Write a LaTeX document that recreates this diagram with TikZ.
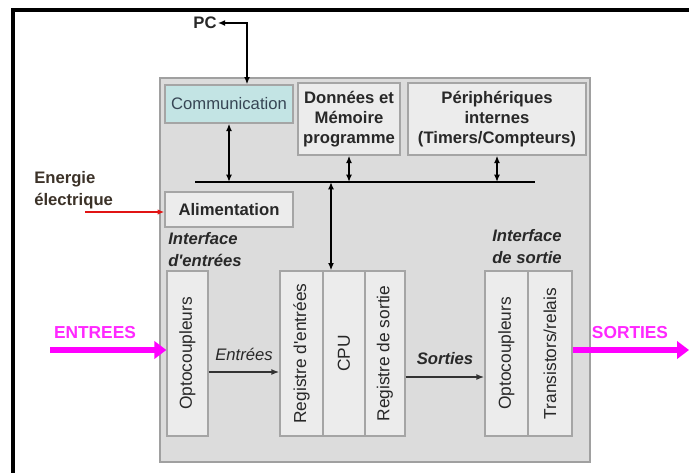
\documentclass[tikz,border=0pt]{standalone}
\usepackage{fontspec}
\setmainfont{Liberation Sans}
\usetikzlibrary{arrows.meta}

\tikzset{
  txt/.style={inner sep=0.75pt, font=\fontsize{12.5}{15}\selectfont\bfseries, text={rgb,255:red,40;green,40;blue,40}},
  blk/.style={draw={rgb,255:red,165;green,165;blue,165}, fill={rgb,255:red,236;green,236;blue,236}, line width=1pt, inner sep=0pt, align=center, font=\fontsize{12.5}{15}\selectfont\bfseries, text={rgb,255:red,40;green,40;blue,40}},
  vblk/.style={blk, rotate=90, font=\fontsize{13}{15}\selectfont, minimum width=123.75pt},
  biarrow/.style={line width=1.3pt, {Latex[length=5.5pt,width=4.5pt]}-{Latex[length=5.5pt,width=4.5pt]}},
  flow/.style={line width=1.6pt, draw={rgb,255:red,50;green,50;blue,50}, -{Latex[length=6pt,width=4.5pt]}},
  bigarrow/.style={line width=5pt, draw={rgb,255:red,255;green,0;blue,255}, -{Triangle[length=9pt,width=13pt]}},
  bigtxt/.style={inner sep=0.75pt, font=\fontsize{13}{15}\selectfont\bfseries, text={rgb,255:red,255;green,40;blue,255}}
}

\begin{document}
\begin{tikzpicture}[x=0.75pt,y=0.75pt,yscale=-1,xscale=1]
\useasboundingbox (0,0) rectangle (689,472);

%Shape: Rectangle [frame]
\draw [line width=3pt] (13,10) rectangle (720,500);

%Shape: Rectangle [automate]
\node (plc) [draw={rgb,255:red,160;green,160;blue,160}, fill={rgb,255:red,220;green,220;blue,220}, line width=1.2pt, minimum width=322.5pt, minimum height=288pt] at (375,270) {};

%Shape: Rectangle [top row]
\node (comm) [blk, fill={rgb,255:red,195;green,228;blue,228}, font=\fontsize{12.5}{15}\selectfont, text={rgb,255:red,55;green,70;blue,85}, minimum width=96pt, minimum height=28.5pt] at (229,104) {Communication};
\node (mem) [blk, minimum width=76.5pt, minimum height=54pt] at (349,119) {Données et\\Mémoire\\programme};
\node (periph) [blk, minimum width=133.5pt, minimum height=54pt] at (497,119) {Périphériques\\internes\\(Timers/Compteurs)};
\node (alim) [blk, minimum width=96pt, minimum height=26.25pt] at (229,209.5) {Alimentation};

%Shape: Rectangle [vertical blocks]
\node (optin) [vblk, minimum height=30.75pt] at (187.5,353.5) {Optocoupleurs};
\node (regin) [vblk, minimum height=32.25pt] at (301.5,353.5) {Registre d\textquotesingle entrées};
\node (cpu) [vblk, minimum height=31.5pt] at (344,353.5) {CPU};
\node (regout) [vblk, minimum height=30pt] at (385,353.5) {Registre de sortie};
\node (optout) [vblk, minimum height=32.25pt] at (506.5,353.5) {Optocoupleurs};
\node (trans) [vblk, minimum height=33pt] at (550,353.5) {Transistors/relais};

%Straight Lines [bus]
\coordinate (busL) at (195,182);
\coordinate (busR) at (535,182);
\coordinate (busC) at (331,182);
\draw [line width=1.6pt] (busL) -- (busR);
\draw [biarrow] (comm.south) -- (comm.south |- busL);
\draw [biarrow] (mem.south) -- (mem.south |- busL);
\draw [biarrow] (periph.south) -- (periph.south |- busL);
\draw [biarrow] (busC) -- (busC |- cpu.east);

% Text Node
\node (pc) [txt] at (205,23) {PC};
\draw [biarrow] (pc.east) -| (comm.north -| 247,0);

% Text Node
\node (energie) [txt, anchor=north west, align=left, font=\fontsize{12.5}{16.5}\selectfont\bfseries, text={rgb,255:red,60;green,50;blue,40}] at (33,170) {Energie\\électrique};
\coordinate (enStart) at (85,212);
\draw [line width=1.3pt, draw={rgb,255:red,225;green,20;blue,20}, -{Latex[length=5pt,width=4pt]}] (enStart) -- (alim.west |- enStart);

% Text Node
\node (ifin) [txt, anchor=north west, align=left, font=\fontsize{12.5}{16.5}\selectfont\bfseries\itshape] at (167,231) {Interface\\d\textquotesingle entrées};
\node (ifout) [txt, align=center, font=\fontsize{12.5}{16.5}\selectfont\bfseries\itshape] at (527,247) {Interface\\de sortie};

%Straight Lines [entrees / sorties]
\draw [flow] (optin.south |- 0,372) -- node (lblin) [txt, above=7pt, font=\fontsize{12.5}{15}\selectfont\itshape] {Entrées} (regin.north |- 0,372);
\draw [flow] (regout.south |- 0,377) -- node (lblout) [txt, above=8pt, font=\fontsize{12.5}{15}\selectfont\bfseries\itshape] {Sorties} (optout.north |- 0,377);

% Text Node
\node (entrees) [bigtxt] at (95,333) {ENTREES};
\coordinate (inStart) at (50,350);
\draw [bigarrow] (inStart) -- (optin.north |- inStart);
\node (sorties) [bigtxt] at (630,333) {SORTIES};
\coordinate (outEnd) at (689,350);
\draw [bigarrow] (trans.south |- outEnd) -- (outEnd);

\end{tikzpicture}
\end{document}
